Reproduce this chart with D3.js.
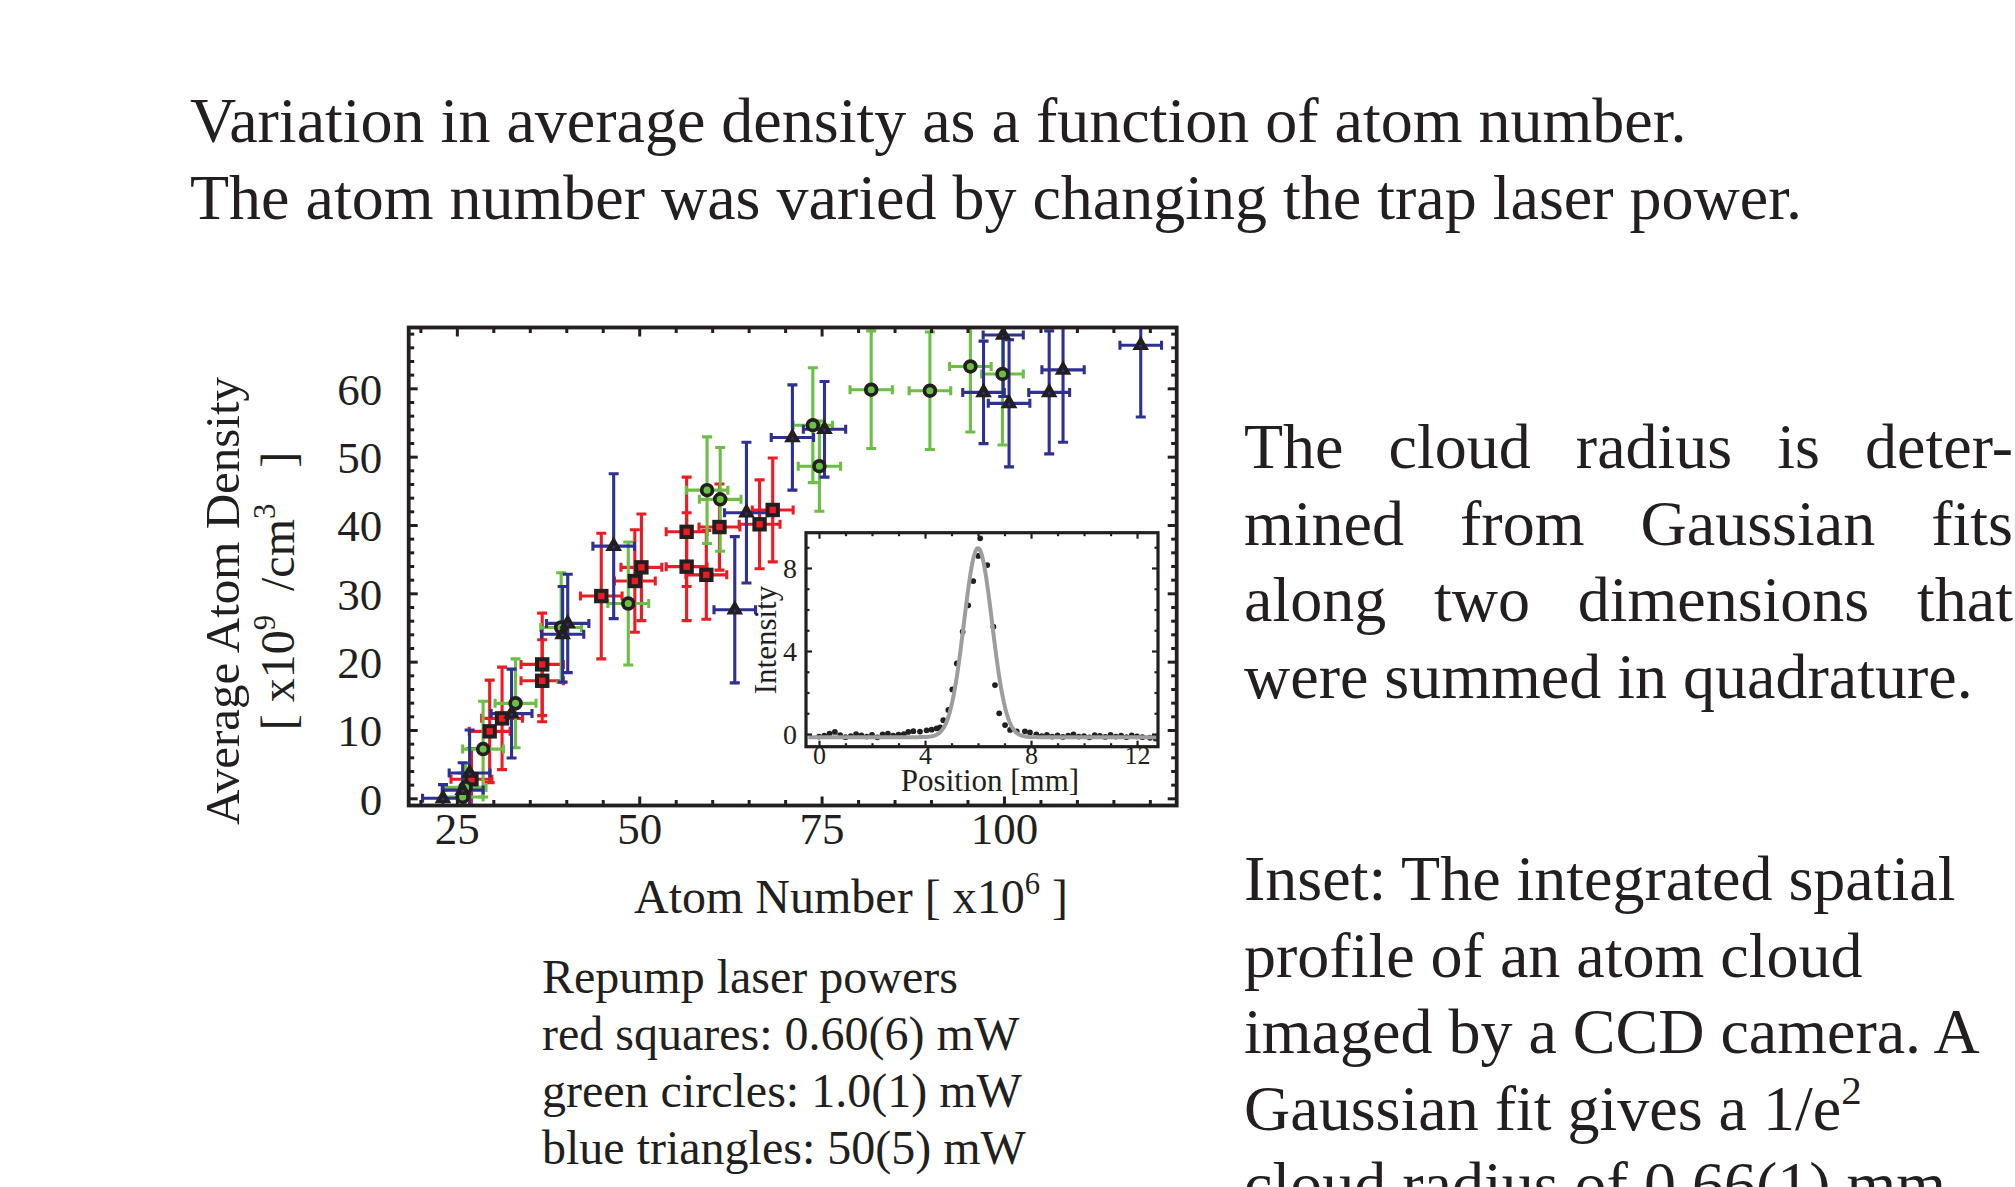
<!DOCTYPE html>
<html>
<head>
<meta charset="utf-8">
<script src="https://cdn.jsdelivr.net/npm/d3@7"></script>
<style>
  html, body { margin: 0; padding: 0; background: #fff; }
  svg { display: block; }
  text { font-family: "Liberation Serif", "Times New Roman", serif; fill: #231f20; white-space: pre; }
</style>
</head>
<body>
<svg id="fig" width="2015" height="1187"></svg>
<script>
// ---------- main plot data: atom number (x10^6) vs average density (x10^9 /cm^3) ----------
// Repump 0.60(6) mW
const redAtoms      = [27.0, 29.5, 31.2, 36.7, 36.7, 44.8, 49.4, 50.3, 56.5, 56.5, 59.2, 61.0, 66.5, 68.3];
const redDensity    = [ 2.8,  9.8, 11.7, 19.6, 17.2, 29.6, 31.8, 33.8, 39.0, 33.9, 32.7, 39.7, 40.1, 42.2];
const redAtomsErr   = [ 2.8,  2.8,  2.8,  2.9,  2.9, 2.85,  2.8,  2.8,  2.8,  2.8,  2.8,  2.8,  2.8,  2.8];
const redDensityErr = [ 4.5,  7.5,  7.5,  7.5,  6.0,  9.2,  7.5,  7.8,  8.0,  7.9,  6.5,  6.3,  6.5,  7.6];

// Repump 1.0(1) mW
const greenAtoms      = [25.8, 26.2, 28.6, 33.05, 39.3, 48.5, 59.3, 61.1, 73.8, 74.7, 81.8, 89.85, 95.4, 99.8];
const greenDensity    = [ 0.2,  1.6,  7.2, 13.9,  25.0, 28.5, 45.1, 43.75, 54.6, 48.6, 59.8, 59.65, 63.2, 62.1];
const greenAtomsErr   = [ 2.8,  2.8,  2.8,  2.8,   2.8,  2.8, 2.85, 2.85,  2.7,  2.9,  2.9,  2.85,  2.85, 2.85];
const greenDensityErr = [ 3.5,  3.5,  7.0,  6.5,   8.0,  9.0,  7.8,  7.6,  8.4,  6.6,  8.6,  8.6,   9.6, 10.4];

// Repump 50(5) mW
const blueAtoms      = [23.1, 25.8, 26.75, 32.5, 39.5, 40.2, 46.5, 63.1, 64.7, 71.0, 75.4, 97.2, 99.9, 100.7, 106.2, 108.1, 118.75];
const blueDensity    = [ 0.0,  1.2,  3.7,  12.4, 24.0, 25.6, 36.9, 27.6, 41.8, 52.8, 54.0, 59.4, 67.8,  57.8,  59.4,  62.7,  66.3];
const blueAtomsErr   = [ 2.8,  2.8,  2.8,   2.8,  2.9,  2.9, 2.85, 2.85,  3.0,  2.9,  2.9, 2.85, 2.75,  2.85,   2.8,   2.9,  2.85];
const blueDensityErr = [ 2.0,  4.0,  6.3,   6.5,  7.0,  7.2, 10.6, 10.7, 10.3,  7.7,  7.0,  7.5,  9.0,   9.3,   9.0,  10.6,  10.5];

const atomTickLabels    = [25, 50, 75, 100];
const densityTickLabels = [0, 10, 20, 30, 40, 50, 60];

// ---------- inset: integrated spatial profile of one cloud ----------
const profilePosition = [0.0, 0.2, 0.4, 0.6, 0.8, 1.0, 1.2, 1.4, 1.6, 1.8, 2.0, 2.2, 2.4, 2.6, 2.8, 3.0, 3.2, 3.37, 3.56, 3.81, 4.06, 4.25,
  4.44, 4.57, 4.69, 4.88, 5.03, 5.2, 5.42, 5.63, 5.82, 6.01, 6.08, 6.35, 6.58, 6.64, 6.8, 7.02, 7.21, 7.46, 7.77, 7.96,
  8.2, 8.4, 8.6, 8.8, 9.0, 9.2, 9.4, 9.6, 9.8, 10.0, 10.2, 10.4, 10.6, 10.8, 11.0, 11.2, 11.4, 11.6, 11.8, 12.0, 12.2, 12.49, 12.7];
const profileIntensity = [-0.12, -0.08, 0.02, 0.10, -0.05, -0.15, -0.10, 0.00, -0.06, -0.12, -0.04, -0.16, -0.02, 0.02, -0.08, -0.03, 0.00, 0.10, 0.14, 0.12, 0.18, 0.21,
  0.27, 0.32, 0.67, 1.16, 2.15, 3.40, 4.93, 6.20, 7.37, 8.58, 9.43, 8.14, 5.17, 2.36, 1.00, 0.43, 0.20, 0.13, 0.13, 0.08,
  -0.02, -0.10, -0.04, -0.12, -0.06, -0.14, -0.08, -0.02, -0.12, -0.10, -0.16, -0.05, -0.09, -0.14, -0.04, -0.12, -0.08, -0.15, -0.06, -0.11, -0.15, -0.18, -0.22];
// Gaussian fit: amplitude, centre (mm), sigma (mm), offset
const fitParams = [9.1, 6.0, 0.53, -0.15];
const positionTickLabels  = [0, 4, 8, 12];
const intensityTickLabels = [0, 4, 8];

// ---------- page text ----------
const titleLines = [
  "Variation in average density as a function of atom number.",
  "The atom number was varied by changing the trap laser power."
];
const radiusLines = ["The cloud radius is deter-", "mined from Gaussian fits", "along two dimensions that", "were summed in quadrature."];
const legendLines = ["Repump laser powers", "red squares: 0.60(6) mW", "green circles: 1.0(1) mW", "blue triangles: 50(5) mW"];

const RED = "#ec1c24", GREEN = "#6dbe45", BLUE = "#2e3192", INK = "#231f20";
const SERIF = '"Liberation Serif", "Times New Roman", serif';

const svg = d3.select("#fig");

// ---------- helpers ----------
function richText(parent, x, y, size, segments, anchor) {
  const t = parent.append("text").attr("x", x).attr("y", y)
    .attr("font-size", size).attr("text-anchor", anchor || "start");
  let up = false;
  segments.forEach(s => {
    const sup = typeof s !== "string";
    const span = t.append("tspan").text(sup ? s.sup : s);
    if (sup) { span.attr("font-size", size * 0.64).attr("dy", -size * 0.4); up = true; }
    else if (up) { span.attr("dy", size * 0.4); up = false; }
  });
  return t;
}

function justifiedLine(parent, x, y, size, width, line) {
  const words = line.split(" ");
  const probe = parent.append("text").attr("font-size", size);
  const widths = words.map(w => { probe.text(w); return probe.node().getComputedTextLength(); });
  probe.remove();
  const gap = (width - d3.sum(widths)) / (words.length - 1);
  let cx = x;
  const t = parent.append("text").attr("y", y).attr("font-size", size);
  words.forEach((w, i) => { t.append("tspan").attr("x", cx).text(w); cx += widths[i] + gap; });
}

// ---------- page text ----------
const page = svg.append("g");
titleLines.forEach((l, i) => page.append("text").attr("x", 190).attr("y", 141.5 + i * 77)
  .attr("font-size", 64).text(l));

radiusLines.forEach((l, i) => {
  if (i < radiusLines.length - 1) justifiedLine(page, 1244, 468 + i * 76.5, 64, 769, l);
  else page.append("text").attr("x", 1244).attr("y", 468 + i * 76.5).attr("font-size", 64).text(l);
});

const insetCaption = [
  ["Inset: The integrated spatial"],
  ["profile of an atom cloud"],
  ["imaged by a CCD camera. A"],
  ["Gaussian fit gives a 1/e", {sup: "2"}],
  ["cloud radius of 0.66(1) mm."]
];
insetCaption.forEach((segs, i) => richText(page, 1244, 900 + i * 76.5, 64, segs));

legendLines.forEach((l, i) => page.append("text").attr("x", 542).attr("y", 993 + i * 57)
  .attr("font-size", 48).text(l));

// ---------- main plot ----------
const P = {left: 408.7, right: 1176.7, top: 327.5, bottom: 805.5};
const x = d3.scaleLinear().domain([18.4, 123.68]).range([P.left, P.right]);
const y = d3.scaleLinear().domain([-1.05, 68.9]).range([P.bottom, P.top]);

svg.append("clipPath").attr("id", "plotClip").append("rect")
  .attr("x", P.left).attr("y", P.top).attr("width", P.right - P.left).attr("height", P.bottom - P.top);

const plot = svg.append("g").attr("clip-path", "url(#plotClip)");

const series = [
  {n: redAtoms, d: redDensity, ne: redAtomsErr, de: redDensityErr, color: RED, mark: "square"},
  {n: greenAtoms, d: greenDensity, ne: greenAtomsErr, de: greenDensityErr, color: GREEN, mark: "circle"},
  {n: blueAtoms, d: blueDensity, ne: blueAtomsErr, de: blueDensityErr, color: BLUE, mark: "triangle"}
];

const rows = s => s.n.map((n, i) => ({n, d: s.d[i], ne: s.ne[i], de: s.de[i]}));

// error bars first, markers on top
series.forEach(s => {
  const g = plot.append("g").attr("stroke", s.color).attr("stroke-width", 3.1).attr("fill", "none");
  const pts = rows(s);
  const capV = 5, capH = 4.5;
  g.selectAll("path.err").data(pts).join("path").attr("class", "err")
    .attr("d", p => {
      const cx = x(p.n), cy = y(p.d), y0 = y(p.d - p.de), y1 = y(p.d + p.de), x0 = x(p.n - p.ne), x1 = x(p.n + p.ne);
      return `M${cx},${y0}V${y1}M${cx - capV},${y0}H${cx + capV}M${cx - capV},${y1}H${cx + capV}` +
             `M${x0},${cy}H${x1}M${x0},${cy - capH}V${cy + capH}M${x1},${cy - capH}V${cy + capH}`;
    });
});

series.forEach(s => {
  const g = plot.append("g");
  const pts = rows(s);
  if (s.mark === "square") {
    g.selectAll("rect").data(pts).join("rect")
      .attr("x", p => x(p.n) - 5.2).attr("y", p => y(p.d) - 5.2).attr("width", 10.4).attr("height", 10.4)
      .attr("fill", s.color).attr("stroke", INK).attr("stroke-width", 4);
  } else if (s.mark === "circle") {
    g.selectAll("circle").data(pts).join("circle")
      .attr("cx", p => x(p.n)).attr("cy", p => y(p.d)).attr("r", 5.4)
      .attr("fill", s.color).attr("stroke", INK).attr("stroke-width", 3.7);
  } else {
    const tri = d3.symbol().type(d3.symbolTriangle).size(120);
    g.selectAll("path").data(pts).join("path")
      .attr("transform", p => `translate(${x(p.n)},${y(p.d)})`).attr("d", tri()).attr("fill", INK);
    g.selectAll("circle").data(pts).join("circle")
      .attr("cx", p => x(p.n)).attr("cy", p => y(p.d) + 1).attr("r", 1.3).attr("fill", s.color);
  }
});

// axes: ticks point inward on all four sides
function styleAxis(g, width) {
  g.select(".domain").remove();
  g.attr("color", INK).attr("font-family", SERIF);
  g.selectAll("line").attr("stroke-width", width);
}
const atomMinor = d3.range(20, 125, 5).filter(v => !atomTickLabels.includes(v));
const densMinor = d3.range(0, 70, 2).filter(v => !densityTickLabels.includes(v));

const xb = svg.append("g").attr("transform", `translate(0,${P.bottom})`)
  .call(d3.axisBottom(x).tickValues(atomTickLabels).tickSize(-9).tickFormat(d3.format("d")));
styleAxis(xb, 3);
xb.attr("font-size", 45);
xb.selectAll("text").attr("y", 38.5).attr("dy", null).attr("fill", INK);
svg.append("g").attr("transform", `translate(0,${P.bottom})`)
  .call(d3.axisBottom(x).tickValues(atomMinor).tickSize(-5.5).tickFormat(""))
  .call(g => styleAxis(g, 3));
svg.append("g").attr("transform", `translate(0,${P.top})`)
  .call(d3.axisTop(x).tickValues(atomTickLabels).tickSize(-9).tickFormat(""))
  .call(g => styleAxis(g, 3));
svg.append("g").attr("transform", `translate(0,${P.top})`)
  .call(d3.axisTop(x).tickValues(atomMinor).tickSize(-5.5).tickFormat(""))
  .call(g => styleAxis(g, 3));

const yl = svg.append("g").attr("transform", `translate(${P.left},0)`)
  .call(d3.axisLeft(y).tickValues(densityTickLabels).tickSize(-9).tickFormat(d3.format("d")));
styleAxis(yl, 3);
yl.attr("font-size", 45);
yl.selectAll("text").attr("x", -26.5).attr("dy", "0.35em").attr("fill", INK);
svg.append("g").attr("transform", `translate(${P.left},0)`)
  .call(d3.axisLeft(y).tickValues(densMinor).tickSize(-5.5).tickFormat(""))
  .call(g => styleAxis(g, 3));
svg.append("g").attr("transform", `translate(${P.right},0)`)
  .call(d3.axisRight(y).tickValues(densityTickLabels).tickSize(-9).tickFormat(""))
  .call(g => styleAxis(g, 3));
svg.append("g").attr("transform", `translate(${P.right},0)`)
  .call(d3.axisRight(y).tickValues(densMinor).tickSize(-5.5).tickFormat(""))
  .call(g => styleAxis(g, 3));

svg.append("rect").attr("x", P.left).attr("y", P.top)
  .attr("width", P.right - P.left).attr("height", P.bottom - P.top)
  .attr("fill", "none").attr("stroke", INK).attr("stroke-width", 3.8);

// axis titles
richText(svg, 851, 913, 48, ["Atom Number [ x10", {sup: "6"}, " ]"], "middle");
richText(svg.append("g").attr("transform", "translate(239,601) rotate(-90)"), 0, 0, 49,
  ["Average Atom Density"], "middle");
richText(svg.append("g").attr("transform", "translate(294,591) rotate(-90)"), 0, 0, 48,
  ["[ x10", {sup: "9"}, "  /cm", {sup: "3"}, "   ]"], "middle");

// ---------- inset ----------
const I = {left: 806, right: 1158, top: 532.7, bottom: 746.7};
const xi = d3.scaleLinear().domain([-0.49, 12.79]).range([I.left, I.right]);
const yi = d3.scaleLinear().domain([-0.61, 9.70]).range([I.bottom, I.top]);

const inset = svg.append("g");
inset.append("rect").attr("x", I.left).attr("y", I.top)
  .attr("width", I.right - I.left).attr("height", I.bottom - I.top).attr("fill", "#fff");

svg.append("clipPath").attr("id", "insetClip").append("rect")
  .attr("x", I.left).attr("y", I.top).attr("width", I.right - I.left).attr("height", I.bottom - I.top);
const insetPlot = inset.append("g").attr("clip-path", "url(#insetClip)");

insetPlot.selectAll("circle").data(profilePosition.map((p, i) => [p, profileIntensity[i]])).join("circle")
  .attr("cx", d => xi(d[0])).attr("cy", d => yi(d[1])).attr("r", 2.9).attr("fill", INK);

const [amp, mu, sig, off] = fitParams;
const fitX = d3.range(-0.4, 12.75, 0.02);
insetPlot.append("path")
  .attr("d", d3.line().x(v => xi(v)).y(v => yi(off + amp * Math.exp(-((v - mu) ** 2) / (2 * sig * sig))))(fitX))
  .attr("fill", "none").attr("stroke", "#9d9d9d").attr("stroke-width", 4);

const posMinor = d3.range(0, 13, 1).filter(v => !positionTickLabels.includes(v));
const intMinor = d3.range(0, 10, 1).filter(v => !intensityTickLabels.includes(v));

const xib = inset.append("g").attr("transform", `translate(0,${I.bottom})`)
  .call(d3.axisBottom(xi).tickValues(positionTickLabels).tickSize(-6).tickFormat(d3.format("d")));
styleAxis(xib, 2.2);
xib.attr("font-size", 26);
xib.selectAll("text").attr("y", 17.5).attr("dy", null).attr("fill", INK);
[["axisBottom", I.bottom], ["axisTop", I.top]].forEach(([fn, pos]) => {
  inset.append("g").attr("transform", `translate(0,${pos})`)
    .call(d3[fn](xi).tickValues(posMinor).tickSize(-3.5).tickFormat(""))
    .call(g => styleAxis(g, 2.2));
});
inset.append("g").attr("transform", `translate(0,${I.top})`)
  .call(d3.axisTop(xi).tickValues(positionTickLabels).tickSize(-6).tickFormat(""))
  .call(g => styleAxis(g, 2.2));

const yil = inset.append("g").attr("transform", `translate(${I.left},0)`)
  .call(d3.axisLeft(yi).tickValues(intensityTickLabels).tickSize(-6).tickFormat(d3.format("d")));
styleAxis(yil, 2.2);
yil.attr("font-size", 28);
yil.selectAll("text").attr("x", -9).attr("dy", "0.35em").attr("fill", INK);
[["axisLeft", I.left], ["axisRight", I.right]].forEach(([fn, pos]) => {
  inset.append("g").attr("transform", `translate(${pos},0)`)
    .call(d3[fn](yi).tickValues(intMinor).tickSize(-3.5).tickFormat(""))
    .call(g => styleAxis(g, 2.2));
});
inset.append("g").attr("transform", `translate(${I.right},0)`)
  .call(d3.axisRight(yi).tickValues(intensityTickLabels).tickSize(-6).tickFormat(""))
  .call(g => styleAxis(g, 2.2));

inset.append("rect").attr("x", I.left).attr("y", I.top)
  .attr("width", I.right - I.left).attr("height", I.bottom - I.top)
  .attr("fill", "none").attr("stroke", INK).attr("stroke-width", 3.2);

inset.append("text").attr("x", 990).attr("y", 791).attr("font-size", 31)
  .attr("text-anchor", "middle").text("Position [mm]");
inset.append("text").attr("transform", "translate(776,640) rotate(-90)").attr("font-size", 31)
  .attr("text-anchor", "middle").text("Intensity");
</script>
</body>
</html>
